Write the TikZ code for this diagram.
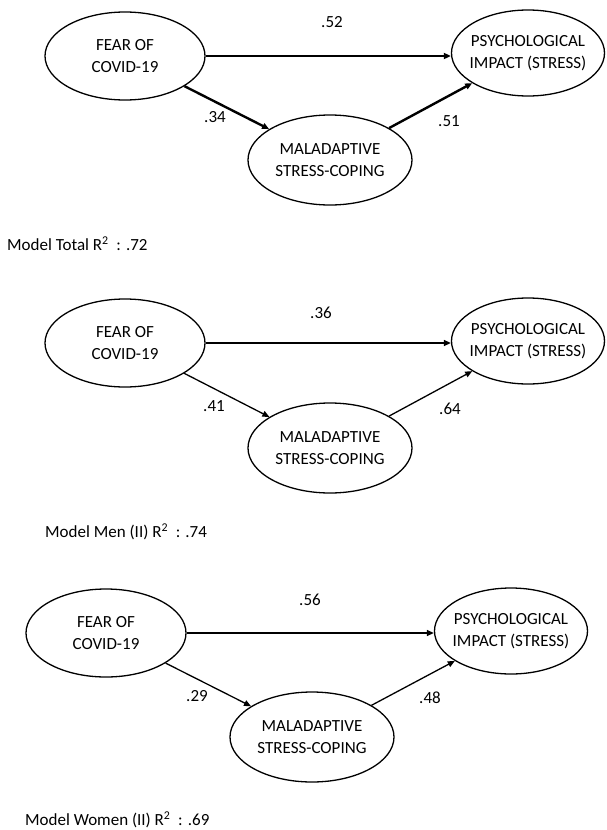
\documentclass[tikz,border=0pt]{standalone}
\usepackage{fontspec}
\setmainfont{Carlito}
\usetikzlibrary{shapes.geometric,arrows.meta}
\newcommand{\rsq}{R\textsuperscript{2}\ \ :}

\tikzset{
  oval/.style={draw, ellipse, line width=1.3pt, inner sep=0pt},
  txt/.style={align=center, font=\fontsize{17}{22}\selectfont},
  num/.style={font=\fontsize{17}{20}\selectfont},
  path/.style={-{Triangle[length=7pt,width=6pt]}, line width=1.3pt},
  thick path/.style={path, line width=2.4pt}
}

\begin{document}
\begin{tikzpicture}[x=1pt,y=-1pt]
  \useasboundingbox (0,0) rectangle (606,830);

  % model total
  \node[oval, minimum width=160pt, minimum height=88pt, label={[txt]center:{FEAR OF\\COVID-19}}] (fear1) at (125,56) {};
  \node[oval, minimum width=153pt, minimum height=86pt, label={[txt]center:{PSYCHOLOGICAL\\IMPACT (STRESS)}}] (psych1) at (528,53) {};
  \node[oval, minimum width=164pt, minimum height=90pt, label={[txt]center:{MALADAPTIVE\\STRESS-COPING}}] (mal1) at (330,160) {};
  \draw[thick path] (fear1.east) -- (fear1.east -| psych1.west);
  \draw[thick path] (fear1) -- (mal1);
  \draw[thick path] (mal1) -- (psych1);
  \node[num] (b1a) at (332,22) {.52};
  \node[num] (b1b) at (215,117) {.34};
  \node[num] (b1c) at (449,121) {.51};
  \node[num, anchor=west, inner sep=0pt] (cap1) at (7,244) {Model Total \rsq{} .72};

  % model men
  \node[oval, minimum width=160pt, minimum height=88pt, label={[txt]center:{FEAR OF\\COVID-19}}] (fear2) at (125,343) {};
  \node[oval, minimum width=153pt, minimum height=86pt, label={[txt]center:{PSYCHOLOGICAL\\IMPACT (STRESS)}}] (psych2) at (528,341) {};
  \node[oval, minimum width=164pt, minimum height=90pt, label={[txt]center:{MALADAPTIVE\\STRESS-COPING}}] (mal2) at (330,448) {};
  \draw[path] (fear2.east) -- (fear2.east -| psych2.west);
  \draw[path] (fear2) -- (mal2);
  \draw[path] (mal2) -- (psych2);
  \node[num] (b2a) at (321,313) {.36};
  \node[num] (b2b) at (214,406) {.41};
  \node[num] (b2c) at (450,409) {.64};
  \node[num, anchor=west, inner sep=0pt] (cap2) at (45,532) {Model Men (II) \rsq{} .74};

  % model women
  \node[oval, minimum width=160pt, minimum height=88pt, label={[txt]center:{FEAR OF\\COVID-19}}] (fear3) at (106,633) {};
  \node[oval, minimum width=153pt, minimum height=86pt, label={[txt]center:{PSYCHOLOGICAL\\IMPACT (STRESS)}}] (psych3) at (511,631) {};
  \node[oval, minimum width=164pt, minimum height=90pt, label={[txt]center:{MALADAPTIVE\\STRESS-COPING}}] (mal3) at (312,737) {};
  \draw[path] (fear3.east) -- (fear3.east -| psych3.west);
  \draw[path] (fear3) -- (mal3);
  \draw[path] (mal3) -- (psych3);
  \node[num] (b3a) at (310,600) {.56};
  \node[num] (b3b) at (197,696) {.29};
  \node[num] (b3c) at (430,698) {.48};
  \node[num, anchor=west, inner sep=0pt] (cap3) at (25,820) {Model Women (II) \rsq{} .69};
\end{tikzpicture}
\end{document}
